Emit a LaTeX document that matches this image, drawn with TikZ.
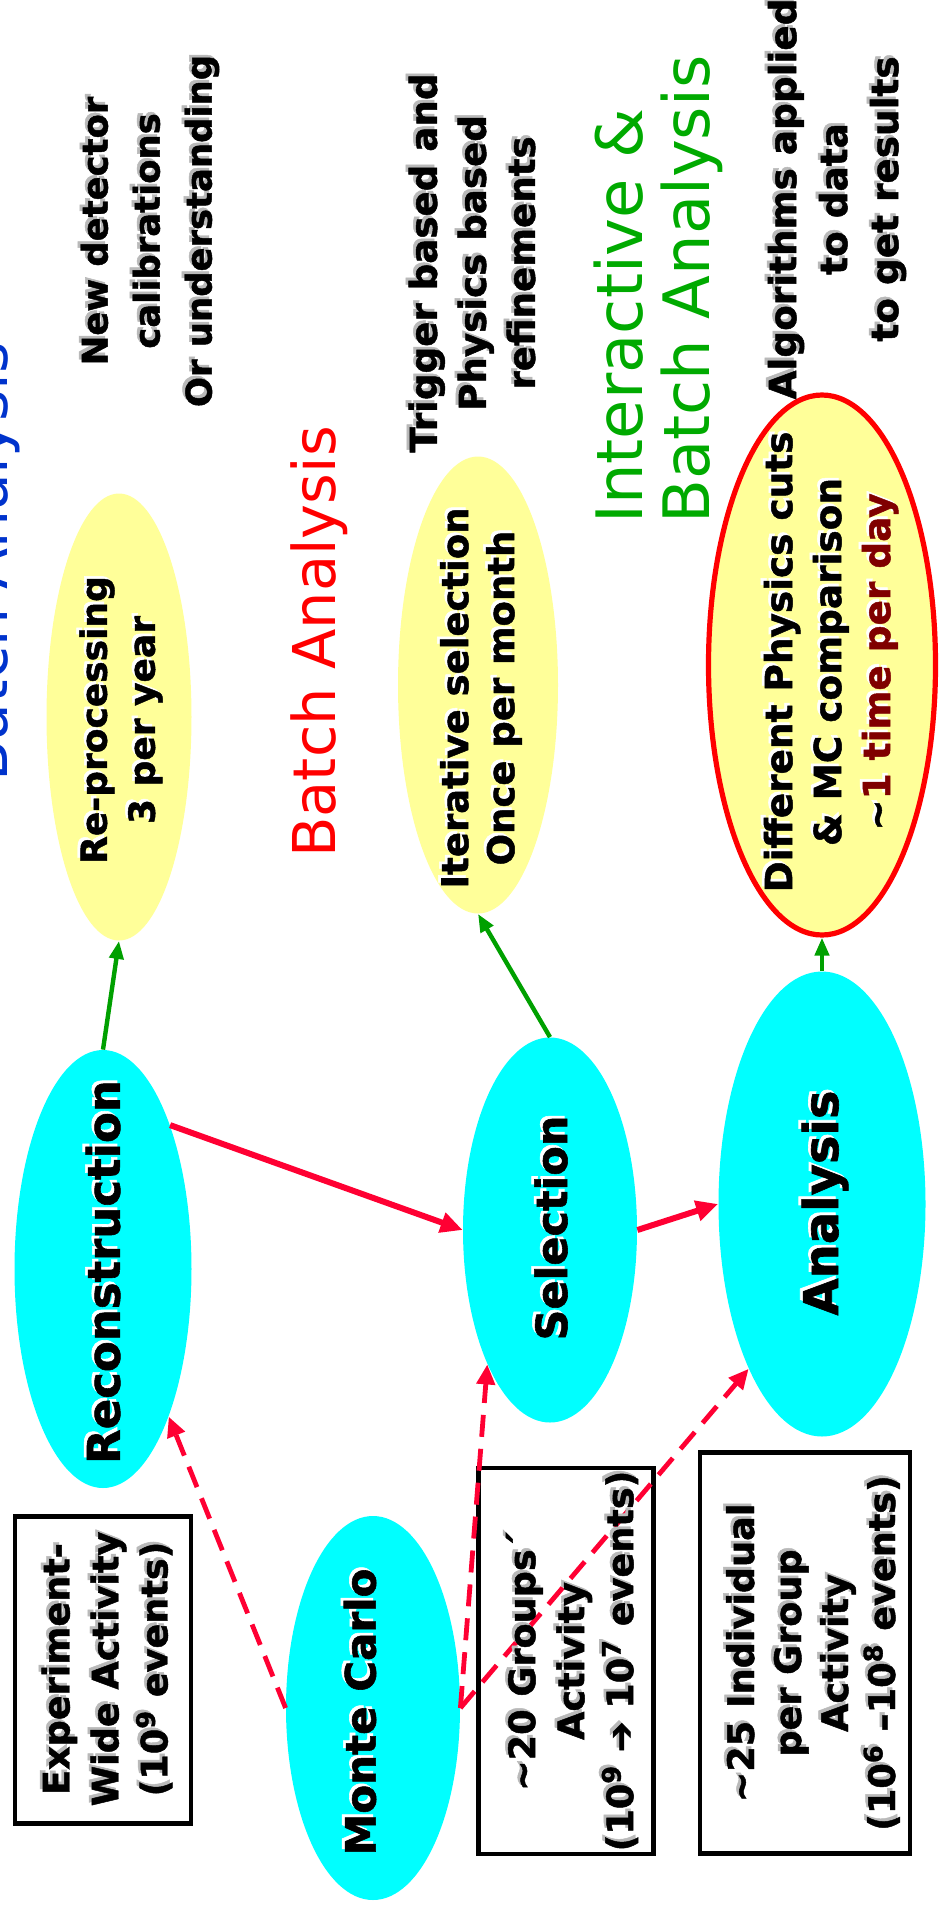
\documentclass[tikz,border=0pt]{standalone}
\usepackage{fontspec}
\setmainfont{DejaVu Sans}[BoldFeatures={FakeBold=1.3}]
\newfontfamily\handf{DejaVu Sans}
\usetikzlibrary{shapes.geometric,arrows.meta}
\definecolor{cyanE}{HTML}{00FFFF}
\definecolor{yelE}{HTML}{FFFF99}
\definecolor{redA}{HTML}{FF0033}
\definecolor{greenA}{HTML}{00A000}
\definecolor{greenT}{HTML}{00AA00}
\definecolor{redT}{HTML}{FF0000}
\definecolor{blueT}{HTML}{0033CC}
\definecolor{maroonT}{HTML}{800000}
\newcommand\mycol[1]{\color{#1}}
\newcommand\killcol{\def\mycol##1{}}
\newcommand\tld{\textasciitilde{}}
% shadowed text: #1 name, #2 position, #3 options, #4 shadow colour, #5 text
\newcommand\shtext[5]{%
  \node[#3, text=#4, xshift=1.4pt, yshift=1.4pt, execute at begin node=\killcol] (#1s) at (#2) {#5};
  \node[#3] (#1) at (#2) {#5};}
\tikzset{
  ell/.style={ellipse, rotate=90, inner sep=0pt, draw=none},
  cyanell/.style={ell, fill=cyanE},
  yelell/.style={ell, fill=yelE},
  boxn/.style={rectangle, rotate=90, draw=black, line width=2.2pt, inner sep=0pt},
  lbl/.style={rotate=90, align=center, inner sep=0pt, text=black},
  garrow/.style={draw=greenA, line width=2.2pt, -{Triangle[length=9pt,width=7pt]}},
  rarrow/.style={draw=redA, line width=3pt, -{Triangle[length=11pt,width=10pt]}},
  darrow/.style={draw=redA, line width=2.4pt, dash pattern=on 11pt off 6pt, -{Triangle[length=10pt,width=9pt]}},
}
\begin{document}
\begin{tikzpicture}[x=0.5pt, y=-0.5pt]
\useasboundingbox (0,0) rectangle (939,1910);
\clip (0,0) rectangle (939,1910);
\fill[white] (0,0) rectangle (939,1910);

% title (mostly outside the picture)
\node[rotate=90, anchor=base, inner sep=0pt, text=blueT, font=\handf\fontsize{30}{30}\selectfont] (title) at (8,562) {Batch Analysis};

% ellipses
\node[cyanell, minimum width=219pt, minimum height=88.5pt] (rec) at (103,1269) {};
\node[cyanell, minimum width=192.5pt, minimum height=87pt] (sel) at (550,1230) {};
\node[cyanell, minimum width=232.5pt, minimum height=103.5pt] (ana) at (822,1204) {};
\node[cyanell, minimum width=192pt, minimum height=87pt] (mc) at (373,1708) {};
\node[yelell, minimum width=223.5pt, minimum height=72.5pt] (rep) at (119,717) {};
\node[yelell, minimum width=228.5pt, minimum height=80pt] (ite) at (478,685) {};
\node[yelell, draw=redT, line width=2.6pt, minimum width=270pt, minimum height=113.5pt] (dif) at (822,665) {};

% boxes
\node[boxn, minimum width=153.5pt, minimum height=88pt] (exp) at (103,1670) {};
\node[boxn, minimum width=193pt, minimum height=87.5pt] (grp) at (566,1661) {};
\node[boxn, minimum width=200.5pt, minimum height=105pt] (ind) at (805,1653) {};

% connectors
\draw[garrow] (rec.east) -- (rep.west);
\draw[garrow] (sel.east) -- (ite.west);
\draw[garrow] (ana.east) -- (dif.west);
\draw[rarrow] (rec.335) -- (sel.north);
\draw[rarrow] (sel.south) -- (ana.north);
\draw[darrow] (mc.north) -- (rec.204);
\draw[darrow] (mc.south) -- (sel.155);
\draw[darrow] (mc.south) -- (ana.156);

% labels in ellipses
\shtext{trec}{103,1272}{lbl, font=\bfseries\fontsize{22.5}{27}\selectfont}{white}{Reconstruction}
\shtext{tsel}{551,1228}{lbl, font=\bfseries\fontsize{21.5}{26}\selectfont}{white}{Selection}
\shtext{tana}{825,1203}{lbl, font=\bfseries\fontsize{24}{28}\selectfont}{white}{Analysis}
\shtext{tmc}{360,1712}{lbl, font=\bfseries\fontsize{21}{26}\selectfont}{white}{Monte Carlo}
\shtext{trep}{121,720}{lbl, font=\bfseries\fontsize{18}{24}\selectfont}{white}{Re-processing\\3 per year}
\shtext{tite}{481,698}{lbl, font=\bfseries\fontsize{18.5}{23}\selectfont}{white}{Iterative selection\\Once per month}
\shtext{tdif}{831,662}{lbl, font=\bfseries\fontsize{18.7}{24.5}\selectfont}{white}{Different Physics cuts\\\& MC comparison\\\tld{\mycol{maroonT}1 time per day}}

% side labels
\shtext{tnew}{150,231}{lbl, font=\bfseries\fontsize{17.7}{26}\selectfont}{gray!55}{New detector\\calibrations\\Or understanding}
\shtext{ttrig}{472,263}{lbl, font=\bfseries\fontsize{18.6}{24.5}\selectfont}{gray!55}{Trigger based and\\Physics based\\refinements}
\shtext{talg}{837,199}{lbl, font=\bfseries\fontsize{18.7}{25.5}\selectfont}{gray!55}{Algorithms applied\\to data\\to get results}

% box labels
\shtext{texp}{107,1669}{lbl, font=\bfseries\fontsize{18.3}{24.5}\selectfont}{gray!55}{Experiment-\\Wide Activity\\(10\textsuperscript{9} events)}
\shtext{tgrp}{572,1661}{lbl, font=\bfseries\fontsize{18.3}{24.5}\selectfont}{gray!55}{\tld20 Groups´\\Activity\\(10\textsuperscript{9} ➔ 10\textsuperscript{7} events)}
\shtext{tind}{813,1653}{lbl, font=\bfseries\fontsize{18.3}{23.5}\selectfont}{gray!55}{\tld25 Individual\\per Group\\Activity\\(10\textsuperscript{6} –10\textsuperscript{8} events)}

% handwritten-style labels
\node[rotate=90, inner sep=0pt, text=redT, font=\handf\fontsize{29.5}{30}\selectfont] (tbatch) at (319,642) {Batch Analysis};
\node[rotate=90, anchor=west, inner sep=0pt, align=left, text=greenT, font=\handf\fontsize{32}{33.5}\selectfont] (tint) at (658,524) {Interactive \&\\Batch Analysis};
\end{tikzpicture}
\end{document}
